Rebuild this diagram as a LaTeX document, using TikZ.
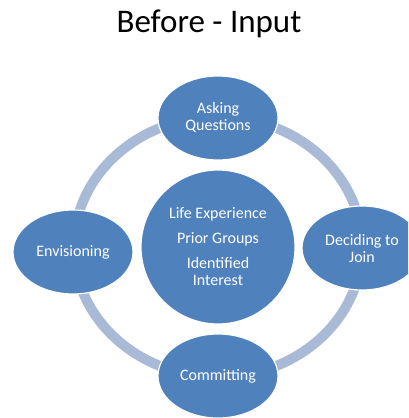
\documentclass[tikz,border=0pt]{standalone}
\usepackage{fontspec}
\setmainfont{Carlito}
\usetikzlibrary{shapes.geometric}

\definecolor{stageblue}{HTML}{4F81BD}
\definecolor{ringblue}{HTML}{A9BAD7}

\tikzset{
    stage/.style={shape=ellipse,fill=stageblue,draw=white,line width=1.2pt,
        minimum width=120pt,minimum height=84pt,inner sep=0pt,
        text=white,align=center,font=\fontsize{16}{17}\selectfont},
    core/.style={shape=circle,fill=stageblue,draw=white,line width=1.2pt,
        minimum size=154pt,inner sep=0pt,
        text=white,align=center,font=\fontsize{16}{17}\selectfont},
    ring/.style={draw=ringblue,line width=10pt}
}

\begin{document}
\begin{tikzpicture}[x=1pt,y=-1pt]
    \clip (0,0) rectangle (408,418);

    \node[font=\fontsize{33}{33}\selectfont] (Title) at (209,24) {Before - Input};

    % cycle behind the stages
    \draw[ring] (218,247) ellipse [x radius=144, y radius=130];

    \node[core] (Core) at (218,247) {Life Experience\\[8pt]Prior Groups\\[8pt]Identified\\Interest};

    \node[stage] (Asking) at (218,118) {Asking\\Questions};
    \node[stage] (Deciding) at (362,248) {Deciding to\\Join};
    \node[stage] (Committing) at (218,376) {Committing};
    \node[stage] (Envisioning) at (73,252) {Envisioning};
\end{tikzpicture}
\end{document}
